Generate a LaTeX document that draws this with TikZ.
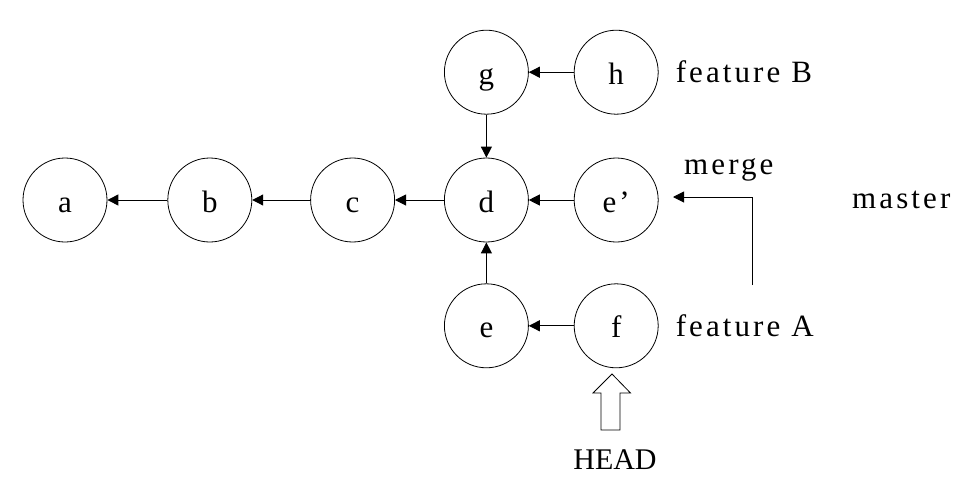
\documentclass[tikz,border=0pt]{standalone}
\usepackage{fontspec}
\setmainfont{Liberation Serif}
\newfontfamily\widelabel[LetterSpace=10]{Liberation Serif}
\usetikzlibrary{arrows.meta, positioning}
\tikzset{
    commit/.style={circle, draw, line width=0.8pt, minimum size=84pt, inner sep=0pt,
        text height=24pt, text depth=0pt, font=\widelabel\fontsize{31}{35}\selectfont},
    branchname/.style={inner sep=0pt, anchor=west, font=\widelabel\fontsize{31}{35}\selectfont},
    arrow/.style={-{Triangle[length=11pt,width=11pt]}, line width=1pt}
}

\begin{document}
\begin{tikzpicture}[x=1pt, y=1pt]
    \useasboundingbox (0,0) rectangle (975,-485);

    \node[commit] (a) at (65,-200) {a};
    \node[commit, right=60pt of a] (b) {b};
    \node[commit, right=58pt of b] (c) {c};
    \node[commit, right=49pt of c] (d) {d};
    \node[commit, right=45pt of d] (e1) {e’};

    \node[commit, above=43pt of d] (g) {g};
    \node[commit, right=45pt of g] (h) {h};
    \node[commit, below=41pt of d] (e) {e};
    \node[commit, right=45pt of e] (f) {f};

    \node[branchname, right=17pt of h] (featB) {feature B};
    \node[branchname, right=17pt of f] (featA) {feature A};
    \node[branchname] (merge) at (684,-170) {merge};
    \node[branchname] (master) at (852,-200) {master};
    \node[inner sep=0pt, font=\fontsize{30}{34}\selectfont] (head) at (615,-460) {HEAD};

    \draw[arrow] (b) -- (a);
    \draw[arrow] (c) -- (b);
    \draw[arrow] (d) -- (c);
    \draw[arrow] (e1) -- (d);
    \draw[arrow] (h) -- (g);
    \draw[arrow] (g) -- (d);
    \draw[arrow] (e) -- (d);
    \draw[arrow] (f) -- (e);

    % merge connector
    \coordinate (mergefrom) at (752,-285);
    \coordinate (mergeto) at (673,-197);
    \draw[arrow] (mergefrom) |- (mergeto);

    % HEAD pointer
    \draw[line width=0.8pt] (612,-374) -- (630.5,-393) -- (620,-393) -- (620,-430)
        -- (601,-430) -- (601,-393) -- (593,-393) -- cycle;
\end{tikzpicture}
\end{document}
